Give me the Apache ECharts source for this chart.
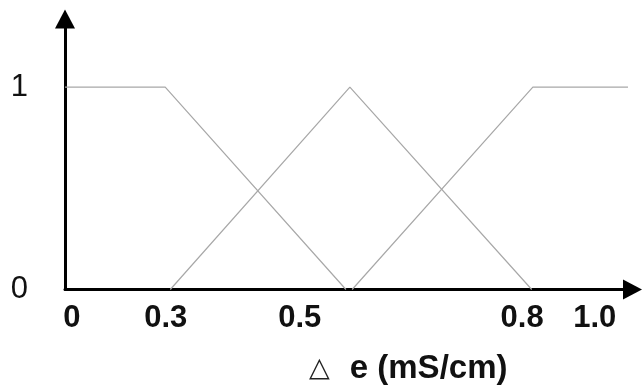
<!DOCTYPE html>
<html>
<head>
<meta charset="utf-8">
<style>
  html, body { margin: 0; padding: 0; background: #fff; }
  #chart { width: 644px; height: 390px; }
</style>
<script src="https://cdn.jsdelivr.net/npm/echarts@6/dist/echarts.min.js"></script>
</head>
<body>
<div id="chart"></div>
<script>
// Membership functions for the conductivity error Δe, drawn on a schematic
// position axis (0 = origin, 1 = right end of the universe of discourse).
const lowX  = [0, 0.178, 0.499];
const lowY  = [1, 1, 0];
const midX  = [0.187, 0.506, 0.829];
const midY  = [0, 1, 0];
const highX = [0.510, 0.831, 1.0];
const highY = [0, 1, 1];

// Tick labels along the horizontal axis and where they sit on it
const xTickPos    = [0.012, 0.179, 0.417, 0.812, 0.941];
const xTickLabels = ['0', '0.3', '0.5', '0.8', '1.0'];

// Membership degree ticks
const yTickPos    = [0, 1];
const yTickLabels = ['0', '1'];

const axisTitle = 'e (mS/cm)';

function pairs(xs, ys) {
  return xs.map((x, i) => [x, ys[i]]);
}

function memberSeries(name, xs, ys) {
  return {
    name: name,
    type: 'line',
    data: pairs(xs, ys),
    symbol: 'none',
    silent: true,
    lineStyle: { color: '#a8a8a8', width: 1.2 }
  };
}

const chart = echarts.init(document.getElementById('chart'), null, { renderer: 'canvas' });

chart.setOption({
  animation: false,
  backgroundColor: '#ffffff',
  title: {
    text: '{tri|△}{gap|}{b|' + axisTitle + '}',
    left: 304,
    top: 347,
    textStyle: {
      rich: {
        tri: { fontFamily: 'DejaVu Sans', fontSize: 27, fontWeight: 'normal', color: '#222' },
        gap: { width: 20 },
        b: { fontFamily: 'Liberation Sans', fontSize: 33, fontWeight: 'bold', color: '#111' }
      }
    }
  },
  grid: { left: 65, right: 11.5, top: 19, bottom: 100.5, containLabel: false },
  xAxis: {
    type: 'value',
    min: 0,
    max: 1.008,
    splitLine: { show: false },
    axisTick: { show: false },
    axisLine: {
      show: true,
      symbol: ['none', 'triangle'],
      symbolSize: [20, 19],
      lineStyle: { color: '#000', width: 3 }
    },
    axisLabel: {
      customValues: xTickPos,
      margin: 13,
      color: '#111',
      fontFamily: 'Liberation Sans',
      fontSize: 31,
      fontWeight: 'bold',
      formatter: function (v) {
        const i = xTickPos.findIndex(p => Math.abs(p - v) < 1e-6);
        return i >= 0 ? xTickLabels[i] : '';
      }
    }
  },
  yAxis: {
    type: 'value',
    min: 0,
    max: 1.336,
    splitLine: { show: false },
    axisTick: { show: false },
    axisLine: {
      show: true,
      symbol: ['none', 'triangle'],
      symbolSize: [20, 19],
      lineStyle: { color: '#000', width: 3 }
    },
    axisLabel: {
      customValues: yTickPos,
      margin: 37,
      color: '#111',
      fontFamily: 'Liberation Sans',
      fontSize: 31,
      padding: [0, 0, 8, 0],
      formatter: function (v) {
        const i = yTickPos.indexOf(v);
        return i >= 0 ? yTickLabels[i] : '';
      }
    }
  },
  series: [
    memberSeries('low', lowX, lowY),
    memberSeries('medium', midX, midY),
    memberSeries('high', highX, highY)
  ]
});
</script>
</body>
</html>
